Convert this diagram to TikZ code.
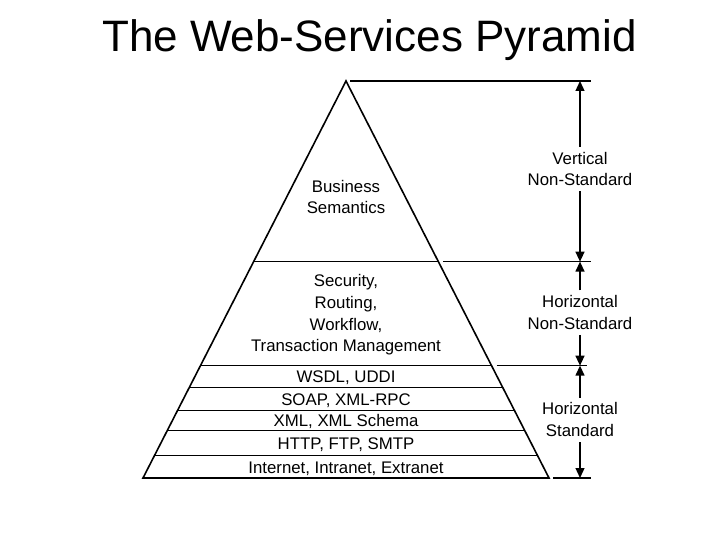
\documentclass[tikz,border=0pt]{standalone}
\usepackage{fontspec}
\setmainfont{Liberation Sans}
\usetikzlibrary{positioning, arrows.meta, calc}

\begin{document}
\begin{tikzpicture}[
        x=1pt, y=-1pt,
        >={Triangle[length=10pt, width=9pt]},
        edge/.style={line width=1.6pt, line join=miter},
        layer/.style={line width=1.4pt},
        guide/.style={line width=1.3pt},
        dim/.style={line width=1.3pt, ->},
        lbl/.style={align=center, inner sep=0pt, font=\fontsize{16.8}{21.7}\selectfont},
        side/.style={lbl, inner sep=5pt},
        band/.style={anchor=base, inner sep=0pt, font=\fontsize{16.8}{21.7}\selectfont}
    ]
        \useasboundingbox (0,0) rectangle (720,540);

        % title
        \node[anchor=base, inner sep=0pt, font=\fontsize{44}{50}\selectfont] (title) at (369.5,52) {The Web-Services Pyramid};

        % pyramid outline
        \coordinate (apex) at (346,81);
        \coordinate (bl) at (143,478);
        \coordinate (br) at (549,478);
        \draw[edge] (apex) -- (bl) -- (br) -- cycle;

        % layer lines
        \foreach \t/\name in {0.455/a, 0.717/b, 0.772/c, 0.830/d, 0.880/e, 0.944/f}
            \draw[layer] ($(apex)!\t!(bl)$) coordinate (\name L) -- ($(apex)!\t!(br)$) coordinate (\name R);

        % guide lines to the right
        \draw[guide] ($(apex)+(4,0)$) -- (591,81);
        \draw[guide] ($(aR)+(5,0)$) -- (aR -| 591,0);
        \draw[guide] ($(bR)+(5,0)$) -- (bR -| 587,0);
        \draw[guide] ($(br)+(4,0)$) -- (591,478);

        % layer texts
        \node[lbl] (biz) at (346,197) {Business\\Semantics};
        \node[lbl] (mid) at (346,315) {Security,\\Routing,\\Workflow,\\Transaction Management};
        \node[band] (wsdl) at (346,382.7) {WSDL, UDDI};
        \node[band] (soap) at (346,405.2) {SOAP, XML-RPC};
        \node[band] (xml) at (346,426.7) {XML, XML Schema};
        \node[band] (http) at (346,449.3) {HTTP, FTP, SMTP};
        \node[band] (net) at (346,473.2) {Internet, Intranet, Extranet};

        % dimension arrows
        \coordinate (d0) at (580,81);
        \coordinate (d1) at (580,262);
        \coordinate (d2) at (aR -| 580,0);
        \coordinate (d3) at (bR -| 580,0);
        \coordinate (d4) at (580,478);
        \node[side] (vns) at (580,169) {Vertical\\Non-Standard};
        \node[side] (hns) at ($(d2)!0.5!(d3)+(0,-1)$) {Horizontal\\Non-Standard};
        \node[side] (hs) at ($(d3)!0.5!(d4)+(0,-2)$) {Horizontal\\Standard};

        \draw[dim] (vns) -- (d0);
        \draw[dim] (vns) -- (d2);
        \draw[dim] (hns) -- (d2);
        \draw[dim] (hns) -- (d3);
        \draw[dim] (hs) -- (d3);
        \draw[dim] (hs) -- (d4);
    \end{tikzpicture}
\end{document}
